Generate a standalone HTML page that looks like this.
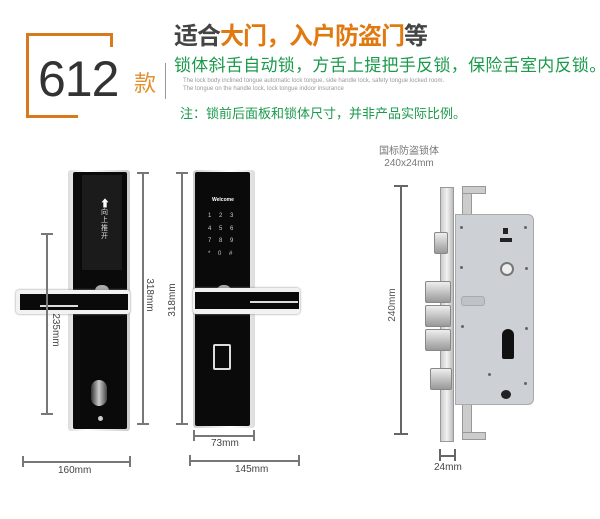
<!DOCTYPE html>
<html><head><meta charset="utf-8"><style>
body{margin:0;width:600px;height:519px;background:#fff;position:relative;overflow:hidden;font-family:"Liberation Sans","Noto Sans CJK SC",sans-serif}
.a{position:absolute}
.hl{position:absolute;height:2px;background:#777}
.vl{position:absolute;width:2px;background:#777}
.t{position:absolute;font-size:10px;color:#444;white-space:nowrap;line-height:12px}
.r{width:36px;text-align:center}
.bolt{position:absolute;background:linear-gradient(#eee,#999);border:1px solid #888;border-radius:2px}
.dot{position:absolute;width:3px;height:3px;border-radius:50%;background:#666}
</style></head><body>
<!-- header -->
<div class="a" style="left:26px;top:33px;width:86px;height:3px;background:#d77a1e"></div>
<div class="a" style="left:26px;top:33px;width:3px;height:85px;background:#d77a1e"></div>
<div class="a" style="left:110px;top:33px;width:3px;height:14px;background:#d77a1e"></div>
<div class="a" style="left:26px;top:115px;width:52px;height:3px;background:#d77a1e"></div>
<div class="a" style="left:38px;top:50px;font-size:50px;color:#333;letter-spacing:-1px">612</div>
<div class="a" style="left:134px;top:66px;font-size:22px;color:#e09030;font-family:'Noto Sans CJK SC',sans-serif">款</div>
<div class="a" style="left:165px;top:63px;width:1px;height:36px;background:#999"></div>
<div class="a" style="left:174px;top:16px;font-size:24px;font-weight:bold;color:#444;font-family:'Noto Sans CJK SC',sans-serif;letter-spacing:-1px">适合<span style="color:#e07a10">大门，入户防盗门</span>等</div>
<div class="a" style="left:174px;top:51px;font-size:17px;color:#1a9a4a;font-family:'Noto Sans CJK SC',sans-serif;letter-spacing:0.3px;white-space:nowrap">锁体斜舌自动锁，方舌上提把手反锁，保险舌室内反锁。</div>
<div class="a" style="left:183px;top:77px;font-size:6px;color:#999;line-height:8px;white-space:nowrap">The lock body inclined tongue automatic lock tongue, side handle lock, safety tongue locked room.<br>The tongue on the handle lock, lock tongue indoor insurance</div>
<div class="a" style="left:180px;top:103px;font-size:13px;color:#1a9a4a;font-family:'Noto Sans CJK SC',sans-serif;white-space:nowrap">注：锁前后面板和锁体尺寸，并非产品实际比例。</div>

<!-- left lock -->
<div class="a" style="left:68px;top:170px;width:62px;height:261px;background:linear-gradient(90deg,#ddd,#fff 30%,#ccc);border-radius:3px"></div>
<div class="a" style="left:73px;top:172px;width:54px;height:257px;background:#0a0a0a;border-radius:2px"></div>
<div class="a" style="left:82px;top:175px;width:40px;height:95px;background:#1b1b1b"></div>
<div class="a" style="left:100px;top:195px;font-size:10px;color:#fff">⬆</div>
<div class="a" style="left:101px;top:208px;font-size:7px;color:#ddd;width:8px;line-height:8px;font-family:'Noto Sans CJK SC',sans-serif">向上推开</div>
<div class="a" style="left:95px;top:285px;width:14px;height:8px;border-radius:6px 6px 0 0;background:#aaa"></div>
<div class="a" style="left:16px;top:290px;width:114px;height:24px;background:#f2f2f2;border-radius:3px;box-shadow:0 0 2px #888"></div>
<div class="a" style="left:20px;top:294px;width:108px;height:16px;background:#0a0a0a"></div>
<div class="a" style="left:40px;top:305px;width:38px;height:2px;background:#ddd"></div>
<div class="a" style="left:91px;top:380px;width:16px;height:26px;border-radius:8px;background:linear-gradient(90deg,#333,#ccc,#444)"></div>
<div class="a" style="left:98px;top:416px;width:5px;height:5px;border-radius:50%;background:#ccc"></div>
<div class="vl" style="left:46px;top:234px;height:180px"></div>
<div class="hl" style="left:41px;top:233px;width:12px"></div><div class="hl" style="left:41px;top:413px;width:12px"></div>
<div class="t r" style="left:37px;top:324px;transform:rotate(90deg)">235mm</div>
<div class="vl" style="left:142px;top:173px;height:250px"></div>
<div class="hl" style="left:137px;top:172px;width:12px"></div><div class="hl" style="left:137px;top:423px;width:12px"></div>
<div class="t r" style="left:131px;top:289px;transform:rotate(90deg)">318mm</div>
<div class="hl" style="left:23px;top:461px;width:107px"></div>
<div class="vl" style="left:22px;top:456px;height:11px"></div><div class="vl" style="left:129px;top:456px;height:11px"></div>
<div class="t" style="left:58px;top:465px">160mm</div>

<!-- right lock -->
<div class="a" style="left:193px;top:170px;width:62px;height:258px;background:linear-gradient(90deg,#ccc,#fff 60%,#ddd);border-radius:3px"></div>
<div class="a" style="left:195px;top:172px;width:55px;height:254px;background:#0a0a0a;border-radius:2px"></div>
<div class="a" style="left:212px;top:197px;font-size:5px;color:#fff;font-weight:bold">Welcome</div>
<div class="a" style="left:208px;top:210px;font-size:6px;color:#ccc;line-height:12.5px;width:40px;word-spacing:6px">1 2 3<br>4 5 6<br>7 8 9<br>* 0 #</div>
<div class="a" style="left:217px;top:285px;width:14px;height:8px;border-radius:6px 6px 0 0;background:#aaa"></div>
<div class="a" style="left:193px;top:288px;width:107px;height:26px;background:#f2f2f2;border-radius:3px;box-shadow:0 0 2px #888"></div>
<div class="a" style="left:195px;top:292px;width:104px;height:17px;background:#0a0a0a"></div>
<div class="a" style="left:250px;top:301px;width:48px;height:2px;background:#ddd"></div>
<div class="a" style="left:213px;top:344px;width:14px;height:22px;border:2px solid #ddd;border-radius:2px"></div>
<div class="vl" style="left:181px;top:173px;height:250px"></div>
<div class="hl" style="left:176px;top:172px;width:12px"></div><div class="hl" style="left:176px;top:423px;width:12px"></div>
<div class="t r" style="left:155px;top:294px;transform:rotate(-90deg)">318mm</div>
<div class="hl" style="left:194px;top:435px;width:60px"></div>
<div class="vl" style="left:193px;top:430px;height:11px"></div><div class="vl" style="left:253px;top:430px;height:11px"></div>
<div class="t" style="left:211px;top:438px">73mm</div>
<div class="hl" style="left:190px;top:460px;width:109px"></div>
<div class="vl" style="left:189px;top:455px;height:11px"></div><div class="vl" style="left:298px;top:455px;height:11px"></div>
<div class="t" style="left:235px;top:464px">145mm</div>

<!-- lock body -->
<div class="a" style="left:373px;top:146px;font-size:10px;color:#777;text-align:center;line-height:12px;width:72px">国标防盗锁体<br>240x24mm</div>
<div class="vl" style="left:400px;top:186px;height:247px;background:#666"></div>
<div class="hl" style="left:394px;top:185px;width:14px;background:#666"></div><div class="hl" style="left:394px;top:433px;width:14px;background:#666"></div>
<div class="t r" style="left:375px;top:299px;transform:rotate(-90deg);color:#555">240mm</div>
<div class="a" style="left:462px;top:188px;width:8px;height:30px;background:#ccc;border:1px solid #999"></div>
<div class="a" style="left:462px;top:402px;width:8px;height:35px;background:#ccc;border:1px solid #999"></div>
<div class="a" style="left:462px;top:186px;width:22px;height:6px;background:#ccc;border:1px solid #999"></div>
<div class="a" style="left:462px;top:432px;width:22px;height:6px;background:#ccc;border:1px solid #999"></div>
<div class="a" style="left:455px;top:214px;width:77px;height:189px;background:#cdd0d4;border:1px solid #aaa;border-radius:0 6px 6px 0"></div>
<div class="a" style="left:440px;top:187px;width:12px;height:253px;background:linear-gradient(90deg,#ccc,#f2f2f2,#bbb);border:1px solid #999"></div>
<div class="bolt" style="left:434px;top:232px;width:12px;height:20px"></div>
<div class="bolt" style="left:425px;top:281px;width:24px;height:20px"></div>
<div class="bolt" style="left:425px;top:305px;width:24px;height:20px"></div>
<div class="bolt" style="left:425px;top:329px;width:24px;height:20px"></div>
<div class="bolt" style="left:430px;top:368px;width:20px;height:20px"></div>
<div class="a" style="left:500px;top:262px;width:10px;height:10px;border-radius:50%;background:#eee;border:2px solid #777"></div>
<div class="a" style="left:461px;top:296px;width:22px;height:8px;background:#bfc3c8;border-radius:3px;border:1px solid #aaa"></div>
<div class="a" style="left:502px;top:329px;width:12px;height:30px;background:#111;border-radius:6px 6px 2px 2px"></div>
<div class="a" style="left:501px;top:390px;width:10px;height:9px;border-radius:50%;background:#222"></div>
<div class="dot" style="left:460px;top:226px"></div><div class="dot" style="left:524px;top:226px"></div>
<div class="dot" style="left:460px;top:266px"></div><div class="dot" style="left:525px;top:267px"></div>
<div class="dot" style="left:461px;top:325px"></div><div class="dot" style="left:525px;top:327px"></div>
<div class="dot" style="left:488px;top:373px"></div><div class="dot" style="left:524px;top:382px"></div>
<div class="a" style="left:503px;top:228px;width:5px;height:6px;background:#222"></div>
<div class="a" style="left:500px;top:238px;width:12px;height:4px;background:#222"></div>
<div class="hl" style="left:440px;top:455px;width:15px;background:#666"></div>
<div class="vl" style="left:439px;top:449px;height:12px;background:#666"></div><div class="vl" style="left:454px;top:449px;height:12px;background:#666"></div>
<div class="t" style="left:434px;top:462px">24mm</div>
</body></html>
